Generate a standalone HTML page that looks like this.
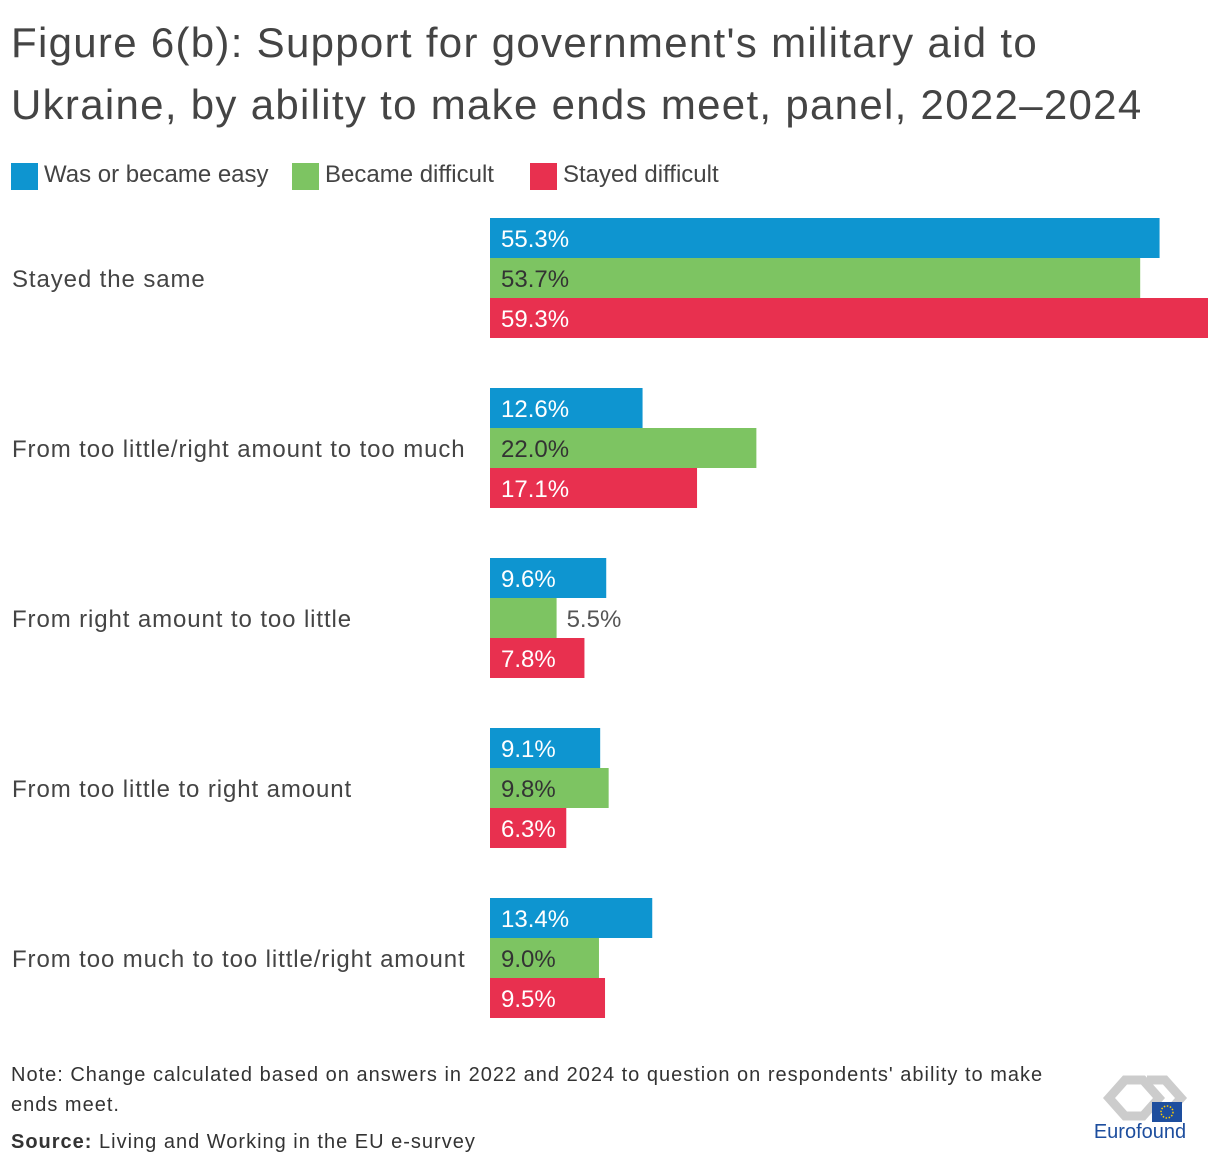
<!DOCTYPE html>
<html><head><meta charset="utf-8"><style>
body{margin:0;width:1220px;height:1170px;background:#fff;font-family:"Liberation Sans",sans-serif;color:#333;overflow:hidden;position:relative}
.t{position:absolute;white-space:nowrap}
</style></head><body>
<div class="t" style="left:11px;top:12px;font-size:42px;line-height:62px;color:#444;letter-spacing:1.3px">Figure 6(b): Support for government's military aid to<br>Ukraine, by ability to make ends meet, panel, 2022–2024</div>
<div id="legend"></div>
<svg id="chart" width="1220" height="1040" style="position:absolute;left:0;top:0"></svg>
<div class="t" style="left:11px;top:1060px;font-size:20px;line-height:30px;color:#333;letter-spacing:1px">Note: Change calculated based on answers in 2022 and 2024 to question on respondents' ability to make<br>ends meet.</div>
<div class="t" style="left:11px;top:1131px;font-size:20px;color:#333;letter-spacing:1px"><b>Source:</b> Living and Working in the EU e-survey</div>
<svg style="position:absolute;left:1085px;top:1072px" width="110" height="72">
<path d="M40 8 L58 8 L74 26 L58 44 L40 44 L24 26 Z" fill="none" stroke="#ccc" stroke-width="9"/>
<path d="M62 8 L80 8 L96 26 L80 44" fill="none" stroke="#ccc" stroke-width="9"/>
<rect x="67" y="30" width="30" height="20" fill="#1d4e9e"/>
<circle cx="82" cy="40" r="6" fill="none" stroke="#fc0" stroke-width="1.5" stroke-dasharray="1.5 1.6"/>
<text x="55" y="66" font-size="20" fill="#1d4e9e" text-anchor="middle" font-family="Liberation Sans,sans-serif">Eurofound</text>
</svg>
<script>
const categories=["Stayed the same","From too little/right amount to too much","From right amount to too little","From too little to right amount","From too much to too little/right amount"];
const seriesNames=["Was or became easy","Became difficult","Stayed difficult"];
const easy=[55.3,12.6,9.6,9.1,13.4];
const becameDifficult=[53.7,22.0,5.5,9.8,9.0];
const stayedDifficult=[59.3,17.1,7.8,6.3,9.5];
const colors=["#0e95d0","#7dc462","#e8304f"];
const series=[easy,becameDifficult,stayedDifficult];
const svg=document.getElementById('chart');const NS='http://www.w3.org/2000/svg';
const x0=490,scale=718/59.3,groupTop=218,groupStep=170,barH=40;
const xs=v=>v*scale;
const lg=document.getElementById('legend');
let lx=11;
seriesNames.forEach((n,i)=>{
  const sw=document.createElement('div');
  
  
  sw.style.cssText=`position:absolute;left:${lx}px;top:163px;width:27px;height:27px;background:${colors[i]}`;
  lg.appendChild(sw);
  const t=document.createElement('div');
  
  
  t.className='t';t.textContent=n;
  t.style.cssText=`left:${lx+33}px;top:161px;font-size:24px;color:#444`;
  lg.appendChild(t);
  lx+=[281,238,200][i];
});
categories.forEach((c,g)=>{
  const gy=groupTop+g*groupStep;
  const lab=document.createElementNS(NS,'text');
  
  
  lab.setAttribute('x',12);lab.setAttribute('y',gy+barH*1.5+9);
  lab.setAttribute('font-size','24');lab.setAttribute('letter-spacing','0.9');lab.setAttribute('fill','#444');
  lab.textContent=c;svg.appendChild(lab);
  series.forEach((s,i)=>{
    const v=s[g],y=gy+i*barH,w=xs(v);
    const r=document.createElementNS(NS,'rect');
    
    
    r.setAttribute('x',x0);r.setAttribute('y',y);r.setAttribute('width',w);r.setAttribute('height',barH);r.setAttribute('fill',colors[i]);
    svg.appendChild(r);
    const t=document.createElementNS(NS,'text');
    
    
    const txt=v.toFixed(1)+'%';
    const inside=w>75;
    t.setAttribute('x',inside?x0+11:x0+w+10);t.setAttribute('y',y+29);
    t.setAttribute('font-size','24');
    t.setAttribute('fill',inside?(i==1?'#333':'#fff'):'#555');
    t.textContent=txt;svg.appendChild(t);
  });
});
</script>
</body></html>
